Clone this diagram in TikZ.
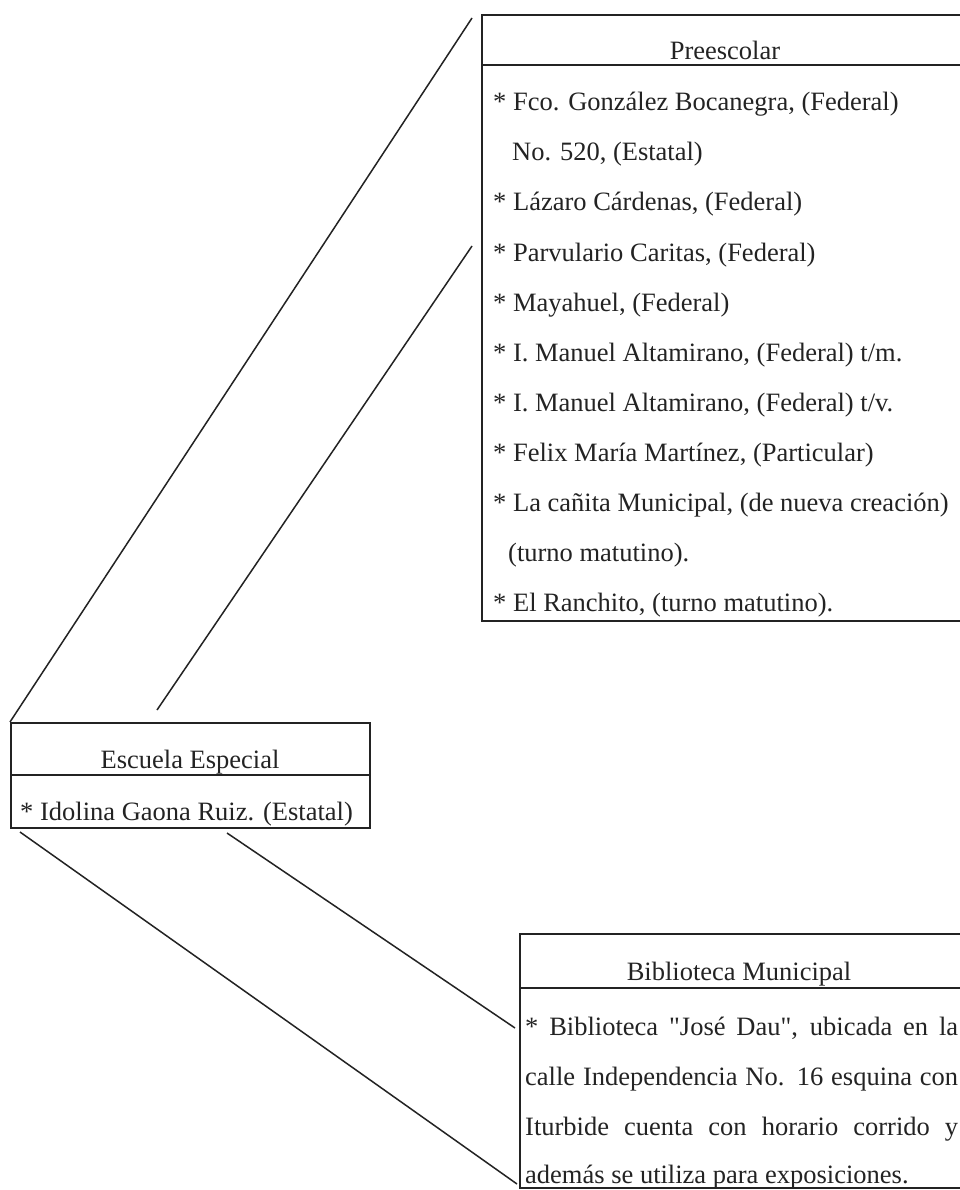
\documentclass[tikz,border=0pt]{standalone}
\usepackage{fontspec}
\setmainfont{Liberation Serif}
\newfontfamily\rawserif{Liberation Serif}
\definecolor{ink}{RGB}{35,35,35}
\begin{document}
\begin{tikzpicture}[x=1pt,y=-1pt,
  frame/.style={draw=ink, line width=1.8pt, rectangle, inner sep=0pt, anchor=north west},
  divider/.style={draw=ink, line width=1.8pt},
  link/.style={draw=ink, line width=1.5pt},
  txt/.style={inner sep=0pt, anchor=base west, text=ink, font=\fontsize{26.5pt}{30pt}\selectfont},
  ttl/.style={txt, anchor=base}]
\useasboundingbox (0,0) rectangle (960,1190);
\fill[white] (0,0) rectangle (960,1190);
\clip (0,0) rectangle (960,1190);

% boxes
\node[frame, minimum width=520pt, minimum height=606pt] (pre) at (481,14) {};
\draw[divider] (481,65) -- (1001,65);
\node[frame, minimum width=359pt, minimum height=105pt] (esc) at (10,722) {};
\draw[divider] (10,775) -- (369,775);
\node[frame, minimum width=480pt, minimum height=254pt] (bib) at (519,933) {};
\draw[divider] (519,988) -- (999,988);

% Preescolar texts
\node[ttl] (pt) at (725,60) {Preescolar};
\node[txt] (p1) at (493,111) {* Fco. González Bocanegra, (Federal)};
\node[txt] (p2) at (512,161) {No. 520, (Estatal)};
\node[txt] (p3) at (493,211) {* Lázaro Cárdenas, (Federal)};
\node[txt] (p4) at (493,261) {* Parvulario Caritas, (Federal)};
\node[txt] (p5) at (493,311) {* Mayahuel, (Federal)};
\node[txt] (p6) at (493,361) {* I. Manuel Altamirano, (Federal) t/m.};
\node[txt] (p7) at (493,411) {* I. Manuel Altamirano, (Federal) t/v.};
\node[txt] (p8) at (493,461) {* Felix María Martínez, (Particular)};
\node[txt] (p9) at (493,511) {* La cañita Municipal, (de nueva creación)};
\node[txt] (p10) at (508,561) {(turno matutino).};
\node[txt] (p11) at (493,611) {* El Ranchito, (turno matutino).};

% Escuela Especial texts
\node[ttl] (et) at (190,768) {Escuela Especial};
\node[txt] (e1) at (20,820) {* Idolina Gaona Ruiz. (Estatal)};

% Biblioteca texts
\node[ttl] (bt) at (739,980) {Biblioteca Municipal};
\node[txt] (b1) at (525,1035) {\makebox[433pt][s]{* Biblioteca {\rawserif "}José Dau{\rawserif "}, ubicada en la}};
\node[txt] (b2) at (525,1085) {\makebox[433pt][s]{calle Independencia No. 16 esquina con}};
\node[txt] (b3) at (525,1135) {\makebox[433pt][s]{Iturbide cuenta con horario corrido y}};
\node[txt] (b4) at (525,1183) {además se utiliza para exposiciones.};

% connectors
\coordinate (c1) at (472,18);
\coordinate (c2) at (157,710);
\coordinate (c3) at (472,246);
\coordinate (c4) at (20,832);
\coordinate (c5) at (517,1184);
\coordinate (c6) at (227,833);
\coordinate (c7) at (515,1028);
\draw[link] (esc.north west) -- (c1);
\draw[link] (c2) -- (c3);
\draw[link] (c4) -- (c5);
\draw[link] (c6) -- (c7);
\end{tikzpicture}
\end{document}
